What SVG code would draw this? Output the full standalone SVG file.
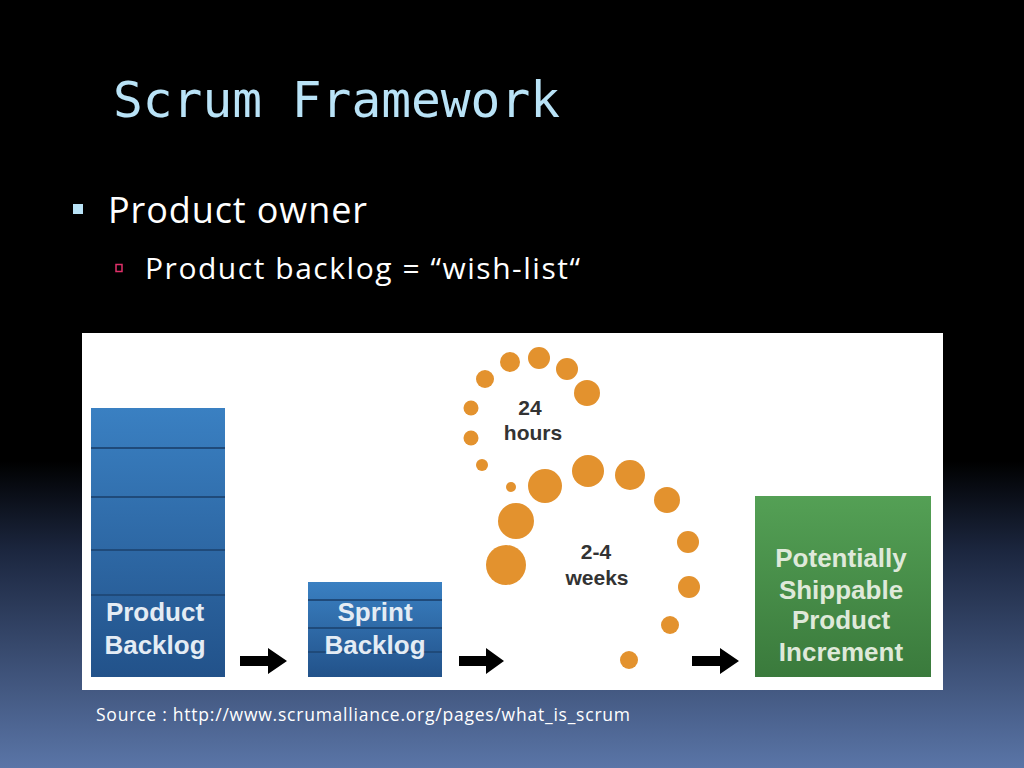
<svg xmlns="http://www.w3.org/2000/svg" width="1024" height="768" viewBox="0 0 1024 768">
<defs>
<linearGradient id="bg" x1="0" y1="0" x2="0" y2="1">
<stop offset="0" stop-color="#000"/>
<stop offset="0.6" stop-color="#000"/>
<stop offset="0.72" stop-color="#1c2740"/>
<stop offset="1" stop-color="#5a75a7"/>
</linearGradient>
<linearGradient id="blue" x1="0" y1="0" x2="0" y2="1">
<stop offset="0" stop-color="#3a80c2"/>
<stop offset="1" stop-color="#22528a"/>
</linearGradient>
<linearGradient id="green" x1="0" y1="0" x2="0" y2="1">
<stop offset="0" stop-color="#54a055"/>
<stop offset="1" stop-color="#3a7a3c"/>
</linearGradient>
<style>
.lbl{font-family:"Liberation Sans",Arial,sans-serif;font-weight:bold;font-size:26px;text-anchor:middle}
.dot{fill:#e3922e}
.sep{stroke:#1f4a7a;stroke-width:2}
.arr{fill:#000}
.small{font-family:"Liberation Sans",Arial,sans-serif;font-weight:bold;font-size:21px;fill:#333;text-anchor:middle}
.body{font-family:"Open Sans","Noto Sans",sans-serif;fill:#fff}
</style>
</defs>
<rect width="1024" height="768" fill="url(#bg)"/>
<text x="113" y="117" font-family="'DejaVu Sans Mono','Liberation Mono',monospace" font-size="49.5" fill="#b9e3f7">Scrum Framework</text>
<rect x="73" y="204" width="10" height="10" fill="#b9e3f7"/>
<text class="body" x="108" y="223" font-size="36" textLength="259" lengthAdjust="spacing">Product owner</text>
<rect x="116" y="264.5" width="6" height="7" fill="none" stroke="#e0306a" stroke-width="1.5"/>
<text class="body" x="145" y="279" font-size="30" textLength="435" lengthAdjust="spacing">Product backlog = “wish-list“</text>
<rect x="82" y="333" width="861" height="357" fill="#fff"/>
<g id="product-backlog">
<rect x="91" y="408" width="134" height="269" fill="url(#blue)"/>
<line class="sep" x1="91" y1="448" x2="225" y2="448"/>
<line class="sep" x1="91" y1="497" x2="225" y2="497"/>
<line class="sep" x1="91" y1="550" x2="225" y2="550"/>
<line class="sep" x1="91" y1="595" x2="225" y2="595"/>
<text class="lbl" x="155" y="621" fill="#e4ecf4">Product</text>
<text class="lbl" x="155" y="654" fill="#e4ecf4">Backlog</text>
</g>
<g id="sprint-backlog">
<rect x="308" y="582" width="134" height="95" fill="url(#blue)"/>
<line class="sep" x1="308" y1="600" x2="442" y2="600"/>
<line class="sep" x1="308" y1="628" x2="442" y2="628"/>
<line class="sep" x1="308" y1="652" x2="442" y2="652"/>
<text class="lbl" x="375" y="621" fill="#e4ecf4">Sprint</text>
<text class="lbl" x="375" y="654" fill="#e4ecf4">Backlog</text>
</g>
<g id="sprint-cycle">
<circle class="dot" cx="510" cy="362" r="10"/>
<circle class="dot" cx="539" cy="358" r="11"/>
<circle class="dot" cx="567" cy="369" r="11"/>
<circle class="dot" cx="587" cy="393" r="13"/>
<circle class="dot" cx="485" cy="379" r="9"/>
<circle class="dot" cx="471" cy="408" r="7.5"/>
<circle class="dot" cx="471" cy="438" r="7.5"/>
<circle class="dot" cx="482" cy="465" r="6"/>
<circle class="dot" cx="511" cy="487" r="5"/>
<circle class="dot" cx="545" cy="486" r="17"/>
<circle class="dot" cx="588" cy="471" r="16"/>
<circle class="dot" cx="630" cy="475" r="15"/>
<circle class="dot" cx="667" cy="500" r="13"/>
<circle class="dot" cx="516" cy="521" r="18"/>
<circle class="dot" cx="506" cy="565" r="20"/>
<circle class="dot" cx="688" cy="542" r="11"/>
<circle class="dot" cx="689" cy="587" r="11"/>
<circle class="dot" cx="670" cy="625" r="9"/>
<circle class="dot" cx="629" cy="660" r="9"/>
<text class="small" x="530" y="415">24</text>
<text class="small" x="533" y="440">hours</text>
<text class="small" x="596" y="559">2-4</text>
<text class="small" x="597" y="585">weeks</text>
</g>
<g id="increment">
<rect x="755" y="496" width="176" height="181" fill="url(#green)"/>
<text class="lbl" x="841" y="567" fill="#dfe9da">Potentially</text>
<text class="lbl" x="841" y="599" fill="#dfe9da">Shippable</text>
<text class="lbl" x="841" y="629" fill="#dfe9da">Product</text>
<text class="lbl" x="841" y="661" fill="#dfe9da">Increment</text>
</g>
<g id="connectors">
<path class="arr" d="M240,656 H268 V648 L287,661 L268,674 V666 H240 Z"/>
<path class="arr" d="M459,656 H486 V648 L504,661 L486,674 V666 H459 Z"/>
<path class="arr" d="M692,656 H720 V648 L739,661 L720,674 V666 H692 Z"/>
</g>
<text class="body" x="96" y="721" font-size="17.5" textLength="534" lengthAdjust="spacing">Source : http://www.scrumalliance.org/pages/what_is_scrum</text>
</svg>
